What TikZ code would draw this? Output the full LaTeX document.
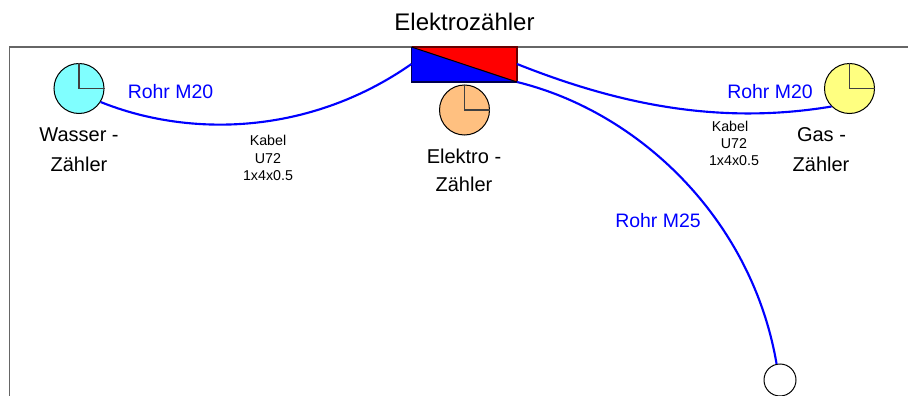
\documentclass[tikz,border=0pt]{standalone}
\usepackage{fontspec}
\setmainfont{Liberation Sans}
\definecolor{pipeblue}{RGB}{0,0,255}
\newcommand{\fsz}[1]{\fontsize{#1}{#1}\selectfont}
\tikzset{
  x=0.75pt,y=-0.75pt,
  meter/.style={circle,draw=black,line width=0.75pt,minimum size=37.5pt,inner sep=0pt},
  pipe/.style={draw=pipeblue,line width=1.6pt},
  frameline/.style={draw=black!60,line width=0.95pt},
  hand/.style={draw=black!75,line width=0.9pt},
  bigtext/.style={font=\fsz{15},align=center,inner sep=0pt},
  pipelabel/.style={font=\fsz{14.6},text=pipeblue,inner sep=0pt},
  small/.style={font=\fsz{10.7},align=center,inner sep=0pt},
}
\begin{document}
\begin{tikzpicture}
\useasboundingbox (0,0) rectangle (908,396);
\coordinate (fbl) at (9.5,396);
\coordinate (ftl) at (9.5,47);
\coordinate (ftr) at (908,47);
\draw[frameline] (fbl) -- (ftl) -- (ftr);
% distribution box
\coordinate (bnw) at (411.5,47);
\coordinate (bne) at (517,47);
\coordinate (bse) at (517,82);
\coordinate (bsw) at (411.5,82);
\fill[blue] (bnw) -- (bse) -- (bsw) -- cycle;
\fill[red] (bnw) -- (bne) -- (bse) -- cycle;
\draw[black!70!blue,line width=0.8pt] (bnw) -- (bsw) -- (bse);
\draw[black!60!red,line width=0.8pt] (bnw) -- (bne) -- (bse);
\draw[black,line width=0.8pt] (bnw) -- (bse);
% meters
\node[meter,fill={rgb,255:red,128;green,255;blue,255}] (wasser) at (79,88.5) {};
\node[meter,fill={rgb,255:red,255;green,192;blue,128}] (elektro) at (464.5,110) {};
\node[meter,fill={rgb,255:red,255;green,255;blue,128}] (gas) at (849.5,88.5) {};
\node[meter,fill=white,minimum size=24pt] (end) at (780,380) {};
\draw[hand] (wasser.north) -- (wasser.center) -- (wasser.east);
\draw[hand] (elektro.north) -- (elektro.center) -- (elektro.east);
\draw[hand] (gas.north) -- (gas.center) -- (gas.east);
% pipes
\coordinate (pl) at (411.5,64);
\coordinate (pr) at (517,64);
\draw[pipe] (wasser.-32) .. controls (190,138) and (310,135) .. (pl);
\draw[pipe] (pr) .. controls (620,105) and (720,125) .. (gas.-135);
\draw[pipe] (bse) .. controls (640,112) and (752,220) .. (end.102);
% labels
\node[bigtext,font=\fsz{18}] (title) at (464.5,22) {Elektrozähler};
\node[bigtext] (lw1) at (79,135) {Wasser -};
\node[bigtext] (lw2) at (79,164) {Zähler};
\node[bigtext] (le1) at (464,156) {Elektro -};
\node[bigtext] (le2) at (464,184) {Zähler};
\node[bigtext] (lg1) at (821.5,135) {Gas -};
\node[bigtext] (lg2) at (821,164) {Zähler};
\node[pipelabel] (r1) at (170.5,92) {Rohr M20};
\node[pipelabel] (r2) at (770,92) {Rohr M20};
\node[pipelabel] (r3) at (658,221) {Rohr M25};
\node[small] (k1) at (268,158) {Kabel\\[2.2pt]U72\\[2.2pt]1x4x0.5};
\node[small] (k2) at (734,143.5) {Kabel\hspace*{6pt}\\[2.2pt]U72\hspace*{6pt}\\[2.2pt]1x4x0.5};
\end{tikzpicture}
\end{document}
